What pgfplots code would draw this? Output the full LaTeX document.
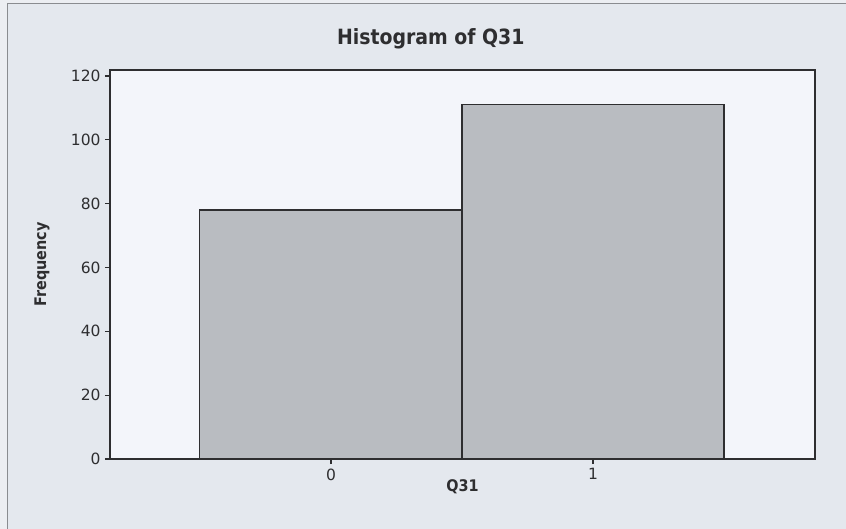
\documentclass[border=0pt]{standalone}
\usepackage{fontspec}
\setmainfont{DejaVu Sans}
\newfontfamily\condbold{DejaVu Sans Condensed}[BoldFont={DejaVu Sans Condensed Bold}]
\usepackage{pgfplots}
\pgfplotsset{compat=1.18}
\definecolor{outerbg}{HTML}{ECEEF2}
\definecolor{panelbg}{HTML}{E4E8EE}
\definecolor{plotbg}{HTML}{F3F5FA}
\definecolor{barfill}{HTML}{B9BCC1}
\definecolor{ink}{HTML}{2E2E30}
\definecolor{framegray}{HTML}{8A8C90}
\begin{document}
\begin{tikzpicture}
\fill[outerbg] (-110bp,-70bp) rectangle (736bp,459bp);
\fill[panelbg] (-102bp,-70bp) rectangle (736bp,455bp);
\draw[framegray, line width=1bp] (-102bp,-70bp) -- (-102bp,455bp) -- (736bp,455bp);
\begin{axis}[
  scale only axis,
  width=705bp, height=389bp,
  xmin=-0.843, xmax=1.847,
  ymin=0, ymax=121.9,
  xtick={0,1}, ytick={0,20,40,60,80,100,120},
  xtick pos=bottom, ytick pos=left,
  tick align=outside,
  major tick length=5bp,
  axis line style={ink, line width=1.2bp},
  every tick/.style={ink, line width=1.2bp},
  axis background/.style={fill=plotbg},
  /pgf/number format/assume math mode=true,
  ticklabel style={font=\fontsize{15.5bp}{18bp}\selectfont, text=ink},
  yticklabel style={xshift=-1bp},
  xticklabel style={yshift=-1bp},
  xlabel={\condbold\bfseries Q31},
  ylabel={\condbold\bfseries Frequency},
  xlabel style={at={(axis description cs:0.5,-0.072)}, anchor=center, font=\fontsize{16bp}{19bp}\selectfont, text=ink},
  ylabel style={at={(axis description cs:-0.0965,0.5)}, anchor=center, font=\fontsize{16bp}{19bp}\selectfont, text=ink},
  title={\condbold\bfseries Histogram of Q31},
  title style={at={(axis description cs:0.455,1.064)}, anchor=center, font=\fontsize{21bp}{24bp}\selectfont, text=ink},
]
\addplot[ybar, bar width=1, bar shift=0pt, fill=barfill, draw=ink, line width=1.2bp]
  coordinates {(0,78) (1,111)};
\end{axis}
\pgfresetboundingbox
\path[use as bounding box] (-110bp,-70bp) rectangle (736bp,459bp);
\end{tikzpicture}
\end{document}
